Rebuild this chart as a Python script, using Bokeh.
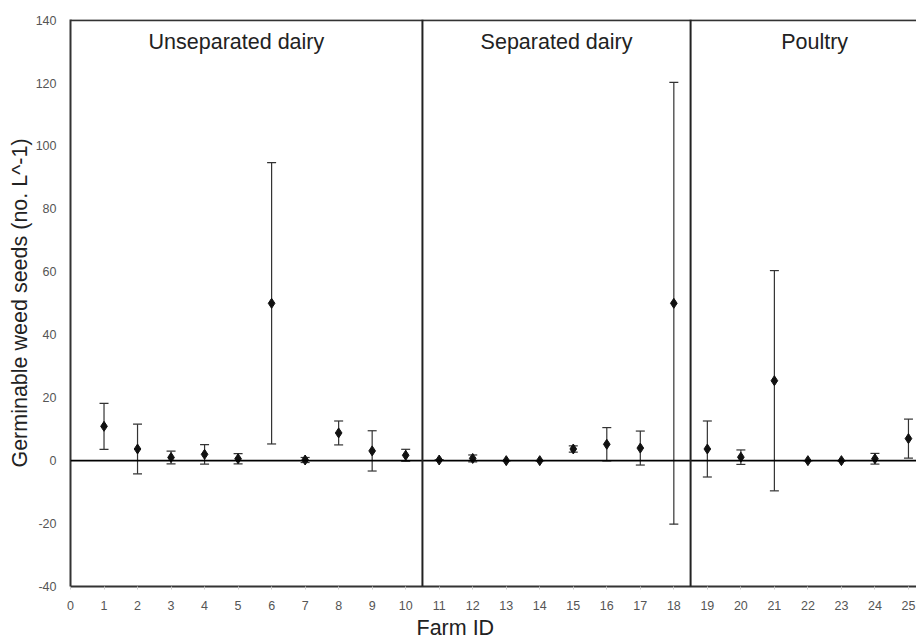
from bokeh.plotting import figure
from bokeh.models import ColumnDataSource, Whisker, TeeHead, Span, Label, FixedTicker, Range1d, Title
from bokeh.embed import file_html
from bokeh.resources import INLINE

# ---- data ----
farm_ids = list(range(1, 26))
mean_seeds = [10.9, 3.7, 1.0, 2.0, 0.6, 50.0, 0.2, 8.8, 3.1, 1.7,
              0.2, 0.7, 0.0, 0.0, 3.7, 5.2, 4.0, 50.0,
              3.7, 1.1, 25.4, 0.0, 0.0, 0.6, 7.0]
err_seeds = [7.3, 7.9, 2.0, 3.1, 1.6, 44.7, 0.8, 3.8, 6.4, 1.9,
             0.0, 1.1, 0.0, 0.0, 1.0, 5.3, 5.4, 70.2,
             8.9, 2.3, 35.0, 0.0, 0.0, 1.7, 6.2]
group_names = ["Unseparated dairy", "Separated dairy", "Poultry"]
group_label_x = [4.95, 14.5, 22.2]
group_bounds = [10.5, 18.5]
x_ticks = list(range(0, 26))
y_ticks = list(range(-40, 141, 20))

FONT = "Liberation Sans"

lower = [m - e for m, e in zip(mean_seeds, err_seeds)]
upper = [m + e for m, e in zip(mean_seeds, err_seeds)]
src = ColumnDataSource(dict(x=farm_ids, y=mean_seeds, lower=lower, upper=upper))

p = figure(width=916, height=643, output_backend="svg", toolbar_location=None,
           x_range=Range1d(0, 25.24), y_range=Range1d(-40, 140.2),
           min_border_left=70, min_border_right=0, min_border_top=19,
           min_border_bottom=57)
p.outline_line_color = None
p.grid.visible = False
p.background_fill_color = "white"

# axes
p.xaxis.ticker = FixedTicker(ticks=x_ticks)
p.yaxis.ticker = FixedTicker(ticks=y_ticks)
p.yaxis.major_label_overrides = {t: str(t) for t in y_ticks}
for ax in (p.xaxis, p.yaxis):
    ax.axis_line_width = 2
    ax.axis_line_color = "#333333"
    ax.major_label_text_font = FONT
    ax.major_label_text_font_size = "12.5px"
    ax.major_label_text_color = "#555555"
    ax.minor_tick_line_color = None
p.xaxis.major_tick_line_color = "#cccccc"
p.xaxis.major_tick_out = 3
p.xaxis.major_tick_in = 0
p.xaxis.major_label_standoff = 11
p.yaxis.major_tick_line_color = None
p.yaxis.major_label_standoff = 8

p.yaxis.axis_label = "Germinable weed seeds (no. L^-1)"
p.yaxis.axis_label_text_font = FONT
p.yaxis.axis_label_text_font_size = "21.5px"
p.yaxis.axis_label_text_font_style = "normal"
p.yaxis.axis_label_text_color = "#222222"
p.yaxis.axis_label_standoff = 1

# x axis title (placed left of centre, as in the reference)
p.add_layout(Title(text="Farm ID", align="left", offset=346, standoff=2,
                   text_font=FONT, text_font_size="21.5px", text_font_style="normal",
                   text_color="#222222"), "below")

# top border and separators
p.add_layout(Span(location=140, dimension="width", line_color="#333333", line_width=2))
p.add_layout(Span(location=0, dimension="width", line_color="black", line_width=1.6))
for b in group_bounds:
    p.add_layout(Span(location=b, dimension="height", line_color="#222222", line_width=2))

# error bars
p.add_layout(Whisker(source=src, base="x", lower="lower", upper="upper",
                     line_color="#333333", line_width=1.2,
                     upper_head=TeeHead(size=9, line_color="#333333", line_width=1.2),
                     lower_head=TeeHead(size=9, line_color="#333333", line_width=1.2)))
p.scatter("x", "y", source=src, marker="diamond", size=10, color="#111111")

# group labels
for name, gx in zip(group_names, group_label_x):
    p.add_layout(Label(x=gx, y=133, text=name, text_align="center", text_baseline="middle",
                       text_font=FONT, text_font_size="21.5px", text_color="#222222"))

open("out.html", "w").write(file_html(p, INLINE))
